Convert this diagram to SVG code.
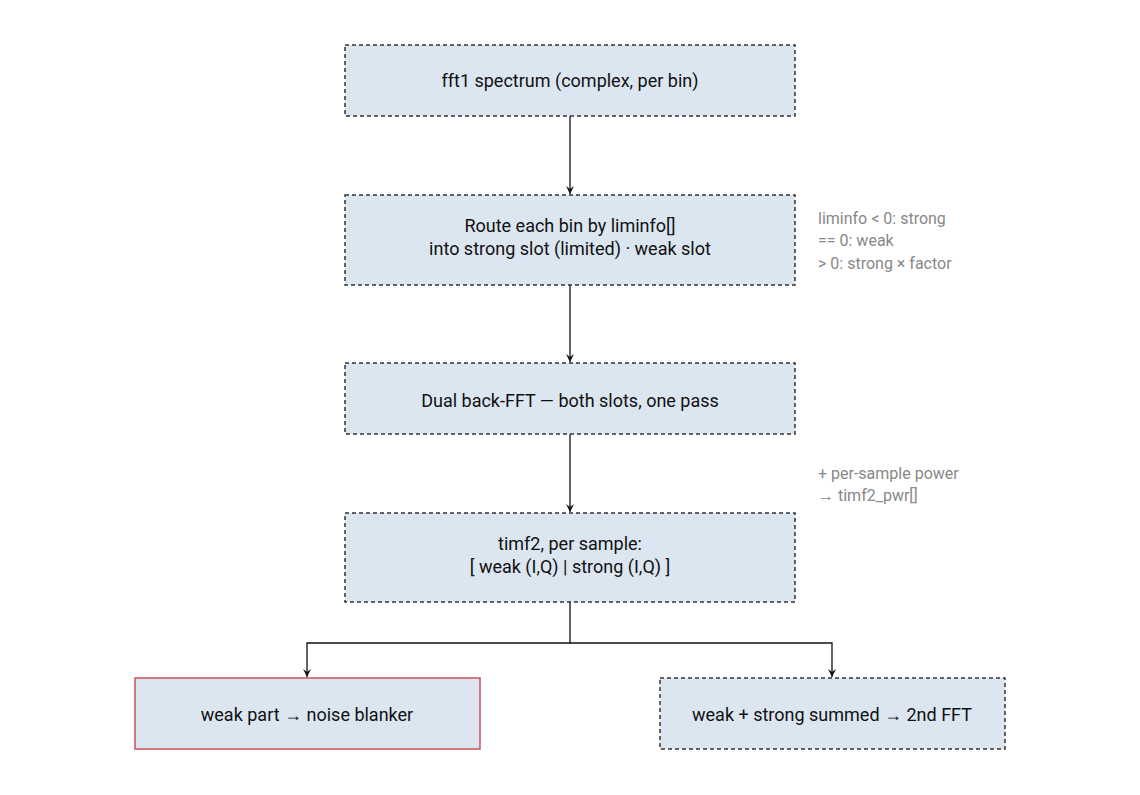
<svg xmlns="http://www.w3.org/2000/svg" width="1140" height="795" viewBox="0 0 1140 795">
<style>
.n{fill:#dce6f0;stroke:#333;stroke-width:1.5;stroke-dasharray:4 3}
.r{fill:#dce6f0;stroke:#c8505a;stroke-width:1.5}
.t{font-family:Roboto,"Liberation Sans",sans-serif;font-size:18px;fill:#111;text-anchor:middle}
.a{font-family:Roboto,"Liberation Sans",sans-serif;font-size:16px;fill:#888}
.c{fill:none;stroke:#111;stroke-width:1.3}
</style>
<defs><marker id="m" markerWidth="10" markerHeight="10" refX="8" refY="5" orient="auto" markerUnits="userSpaceOnUse"><path d="M0,1 L8,5 L0,9 L3,5z" fill="#111"/></marker></defs>
<rect width="1140" height="795" fill="#fff"/>
<g id="connectors">
<path class="c" d="M570,116 V194" marker-end="url(#m)"/>
<path class="c" d="M570,285 V362" marker-end="url(#m)"/>
<path class="c" d="M570,434 V512" marker-end="url(#m)"/>
<path class="c" d="M570,602 V643 H307 V677" marker-end="url(#m)"/>
<path class="c" d="M570,643 H832 V677" marker-end="url(#m)"/>
</g>
<g id="n1"><rect class="n" x="345" y="45" width="450" height="71"/><text class="t" x="570" y="87">fft1 spectrum (complex, per bin)</text></g>
<g id="n2"><rect class="n" x="345" y="195" width="450" height="90"/><text class="t" x="570" y="232">Route each bin by liminfo[]</text><text class="t" x="570" y="255">into strong slot (limited) · weak slot</text></g>
<g id="a1"><text class="a" x="818" y="224">liminfo &lt; 0: strong</text><text class="a" x="818" y="246">== 0: weak</text><text class="a" x="818" y="269">&gt; 0: strong × factor</text></g>
<g id="n3"><rect class="n" x="345" y="363" width="450" height="71"/><text class="t" x="570" y="407">Dual back-FFT — both slots, one pass</text></g>
<g id="a2"><text class="a" x="818" y="479">+ per-sample power</text><text class="a" x="818" y="501">→ timf2_pwr[]</text></g>
<g id="n4"><rect class="n" x="345" y="513" width="450" height="89"/><text class="t" x="570" y="550">timf2, per sample:</text><text class="t" x="570" y="573">[ weak (I,Q) | strong (I,Q) ]</text></g>
<g id="n5"><rect class="r" x="135" y="678" width="345" height="71"/><text class="t" x="307" y="721">weak part → noise blanker</text></g>
<g id="n6"><rect class="n" x="660" y="678" width="345" height="71"/><text class="t" x="832" y="721">weak + strong summed → 2nd FFT</text></g>
</svg>
